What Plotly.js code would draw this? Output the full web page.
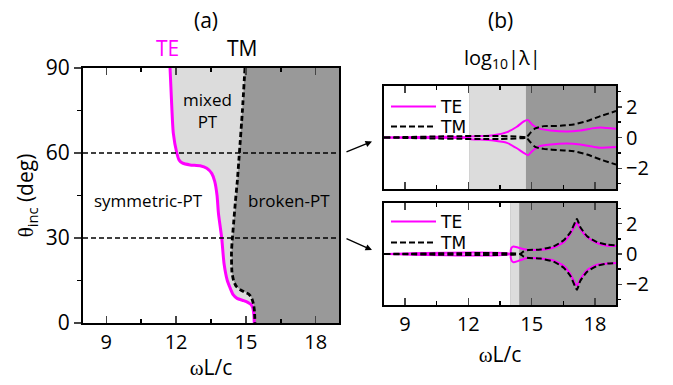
<!DOCTYPE html>
<html><head><meta charset="utf-8">
<script src="https://cdn.plot.ly/plotly-3.0.1.min.js"></script>
<style>html,body{margin:0;padding:0;background:#fff}#chart{width:673px;height:385px}</style>
</head><body><div id="chart"></div>
<script>
// ---------- Panel (a): phase boundaries (theta_inc in deg vs omega L/c) ----------
const teTheta = [90, 79, 67, 60, 57.5, 56.4, 55.8, 55.5, 54.6, 52.8, 50, 45, 38.7, 30, 21, 15, 12.8, 10, 8.7, 7.9, 7.3, 6.5, 5.2, 3, 0];
const teOmega = [11.74, 11.8, 11.88, 12.03, 12.13, 12.28, 12.6, 13.03, 13.32, 13.53, 13.66, 13.76, 13.82, 13.96, 14.06, 14.2, 14.3, 14.45, 14.62, 14.9, 15.08, 15.22, 15.3, 15.34, 15.36];
const tmTheta = [90, 75, 60, 50, 43, 35, 30, 25, 18, 15, 13, 11.8, 11, 10.2, 9.3, 8, 6.5, 4, 0];
const tmOmega = [14.96, 14.85, 14.72, 14.63, 14.55, 14.47, 14.42, 14.38, 14.4, 14.47, 14.58, 14.75, 14.92, 15.12, 15.22, 15.28, 15.33, 15.37, 15.39];
const cutAngles = [60, 30];
const omegaRange = [8, 19];
const thetaRange = [0, 90];
const logRange = [-3.35, 3.35];

// ---------- Panel (b): thresholds at the two cuts ----------
const cutTE = [12.04, 13.99];
const cutTM = [14.73, 14.41];

// cut at 60 deg
const b1TeOmega = [8, 12.04, 12.1, 12.56, 13.19, 13.83, 14.3, 14.62, 14.83, 15.02, 15.33, 15.89, 16.68, 17.31, 17.94, 18.26, 18.58, 19];
const b1TeUp    = [0, 0, 0.07, 0.09, 0.15, 0.35, 0.7, 1.04, 1.13, 0.85, 0.59, 0.46, 0.39, 0.46, 0.61, 0.65, 0.62, 0.57];
const b1TeLo    = [0, 0, -0.1, -0.13, -0.2, -0.35, -0.7, -1.0, -1.15, -0.89, -0.59, -0.46, -0.39, -0.46, -0.61, -0.67, -0.65, -0.61];
const b1TmOmega = [8, 14.73, 14.94, 15.17, 15.57, 16.36, 16.99, 17.63, 18.26, 19];
const b1TmUp    = [0, 0, 0.3, 0.59, 0.74, 0.76, 0.85, 1.07, 1.39, 1.72];
const b1TmLo    = [0, 0, -0.3, -0.61, -0.74, -0.83, -0.89, -1.11, -1.43, -1.76];

// cut at 30 deg
const b2TeOmega = [8, 13.99, 14.01, 14.05, 14.14, 14.38, 14.78, 15.41, 16.04, 16.52, 16.84, 17.03, 17.15, 17.31, 17.63, 18.1, 18.58, 19];
const b2TeUp    = [0, 0, 0.25, 0.42, 0.5, 0.41, 0.28, 0.28, 0.43, 0.78, 1.33, 1.8, 2.06, 1.65, 1.11, 0.72, 0.54, 0.52];
const b2TeLo    = [0, 0, -0.25, -0.44, -0.54, -0.45, -0.26, -0.3, -0.43, -0.78, -1.33, -1.85, -2.07, -1.65, -1.06, -0.7, -0.63, -0.59];
const b2TmOmega = [8, 14.44, 14.6, 14.78, 15.41, 16.04, 16.52, 16.84, 17.08, 17.15, 17.31, 17.63, 18.1, 18.58, 19];
const b2TmUp    = [0, 0, 0.15, 0.25, 0.3, 0.5, 0.9, 1.43, 2.15, 2.3, 1.76, 1.17, 0.78, 0.61, 0.57];
const b2TmLo    = [0, 0, -0.15, -0.25, -0.3, -0.5, -0.9, -1.45, -2.2, -2.35, -1.76, -1.17, -0.78, -0.63, -0.6];

const xTickVals = [9, 12, 15, 18];
const thetaTickVals = [0, 30, 60, 90];
const logTickVals = [-2, 0, 2];

// ---------- styles ----------
const MAG = '#ff00ff';
const LIGHT = '#dcdcdc';
const DARK = '#999999';
const FONT = 'Open Sans, DejaVu Sans, sans-serif';

const teLine = {color: MAG, width: 2, shape: 'spline', smoothing: 0.5};
const tmLine = {color: '#000', width: 2, dash: '6px,3px', shape: 'spline', smoothing: 0.5};

const traces = [
  // panel (a) fills
  {x: tmOmega, y: tmTheta, xaxis: 'x', yaxis: 'y', mode: 'lines', line: {width: 0}, fill: 'tozerox', fillcolor: LIGHT, showlegend: false, hoverinfo: 'skip'},
  {x: teOmega, y: teTheta, xaxis: 'x', yaxis: 'y', mode: 'lines', line: {width: 0}, fill: 'tozerox', fillcolor: '#ffffff', showlegend: false, hoverinfo: 'skip'},
  // panel (a) curves
  {x: teOmega, y: teTheta, xaxis: 'x', yaxis: 'y', mode: 'lines', line: {color: MAG, width: 3, shape: 'spline', smoothing: 0.6}, showlegend: false},
  {x: tmOmega, y: tmTheta, xaxis: 'x', yaxis: 'y', mode: 'lines', line: {color: '#000', width: 2.8, dash: '5px,3px', shape: 'spline', smoothing: 0.6}, showlegend: false},

  // panel (b) top
  {x: b1TeOmega, y: b1TeUp, xaxis: 'x2', yaxis: 'y2', mode: 'lines', name: 'TE', legend: 'legend', line: teLine},
  {x: b1TeOmega, y: b1TeLo, xaxis: 'x2', yaxis: 'y2', mode: 'lines', showlegend: false, line: teLine},
  {x: b1TmOmega, y: b1TmUp, xaxis: 'x2', yaxis: 'y2', mode: 'lines', name: 'TM', legend: 'legend2', line: tmLine},
  {x: b1TmOmega, y: b1TmLo, xaxis: 'x2', yaxis: 'y2', mode: 'lines', showlegend: false, line: tmLine},

  // panel (b) bottom
  {x: b2TeOmega, y: b2TeUp, xaxis: 'x3', yaxis: 'y3', mode: 'lines', name: 'TE', legend: 'legend3', line: teLine},
  {x: b2TeOmega, y: b2TeLo, xaxis: 'x3', yaxis: 'y3', mode: 'lines', showlegend: false, line: teLine},
  {x: b2TmOmega, y: b2TmUp, xaxis: 'x3', yaxis: 'y3', mode: 'lines', name: 'TM', legend: 'legend4', line: tmLine},
  {x: b2TmOmega, y: b2TmLo, xaxis: 'x3', yaxis: 'y3', mode: 'lines', showlegend: false, line: tmLine}
];

const W = 673, H = 385;
const px = (a, b) => [a / W, b / W];
const py = (top, bot) => [1 - bot / H, 1 - top / H];

const tickFont = {family: FONT, size: 20, color: '#000'};
const baseX = {
  range: omegaRange, tickmode: 'array', tickvals: xTickVals, ticks: 'inside', ticklen: 7, tickwidth: 1.5,
  minor: {dtick: 1.5, tick0: 9, ticks: 'inside', ticklen: 4, tickwidth: 1.5, tickcolor: '#000'},
  showline: true, linewidth: 2, linecolor: '#000', mirror: 'ticks', showgrid: false, zeroline: false,
  tickfont: tickFont, automargin: false, fixedrange: true
};
const omegaTitle = '<span style="font-family:Liberation Serif">ω</span>L/c';

const legendBase = (top) => ({x: 386 / W, y: 1 - top / H, xanchor: 'left', yanchor: 'top', bgcolor: 'rgba(0,0,0,0)',
  font: {family: 'DejaVu Sans, sans-serif', size: 17, color: '#000'}, itemwidth: 45});

const layout = {
  width: W, height: H,
  margin: {l: 0, r: 0, t: 0, b: 0},
  paper_bgcolor: '#ffffff',
  plot_bgcolor: DARK,
  font: {family: FONT, color: '#000'},
  xaxis: Object.assign({}, baseX, {domain: px(83, 339), anchor: 'y',
    title: {text: omegaTitle, font: {family: FONT, size: 21}, standoff: 6}}),
  yaxis: {domain: py(68, 323), anchor: 'x', range: thetaRange, tickmode: 'array', tickvals: thetaTickVals,
    ticks: 'outside', ticklen: 7, tickwidth: 1.5,
    minor: {dtick: 15, ticks: 'outside', ticklen: 4, tickwidth: 1.5, tickcolor: '#000'},
    showline: true, linewidth: 2, linecolor: '#000', mirror: true, showgrid: false, zeroline: false,
    tickfont: {family: FONT, size: 21, color: '#000'}, automargin: false, fixedrange: true,
    title: {text: '<span style="font-family:Liberation Serif">θ</span><sub>inc</sub> (deg)', font: {family: FONT, size: 21}, standoff: 6}},
  xaxis2: Object.assign({}, baseX, {domain: px(384, 616), anchor: 'y2', showticklabels: false}),
  yaxis2: {domain: py(86, 189), anchor: 'x2', side: 'right', range: logRange, tickmode: 'array', tickvals: logTickVals,
    ticks: 'outside', ticklen: 4, tickwidth: 1.5,
    minor: {dtick: 1, tick0: 1, ticks: 'outside', ticklen: 3, tickwidth: 1.5, tickcolor: '#000'},
    showline: true, linewidth: 2, linecolor: '#000', mirror: true, showgrid: false, zeroline: false,
    tickfont: tickFont, automargin: false, fixedrange: true},
  xaxis3: Object.assign({}, baseX, {domain: px(384, 616), anchor: 'y3',
    title: {text: omegaTitle, font: {family: FONT, size: 21}, standoff: 11}}),
  yaxis3: {domain: py(203, 305), anchor: 'x3', side: 'right', range: logRange, tickmode: 'array', tickvals: logTickVals,
    ticks: 'outside', ticklen: 4, tickwidth: 1.5,
    minor: {dtick: 1, tick0: 1, ticks: 'outside', ticklen: 3, tickwidth: 1.5, tickcolor: '#000'},
    showline: true, linewidth: 2, linecolor: '#000', mirror: true, showgrid: false, zeroline: false,
    tickfont: tickFont, automargin: false, fixedrange: true},
  legend: legendBase(89),
  legend2: legendBase(109),
  legend3: legendBase(204),
  legend4: legendBase(225),
  shapes: [],
  annotations: []
};

// panel (b) background regions from thresholds
const bAxes = [['x2', 'y2'], ['x3', 'y3']];
bAxes.forEach(([xa, ya], i) => {
  layout.shapes.push({type: 'rect', xref: xa, yref: ya + ' domain', x0: omegaRange[0], x1: cutTE[i], y0: 0, y1: 1, fillcolor: '#ffffff', line: {width: 0}, layer: 'below'});
  layout.shapes.push({type: 'rect', xref: xa, yref: ya + ' domain', x0: cutTE[i], x1: cutTM[i], y0: 0, y1: 1, fillcolor: LIGHT, line: {width: 0}, layer: 'below'});
});
// panel (a) cut lines
cutAngles.forEach(a => {
  layout.shapes.push({type: 'line', xref: 'x domain', yref: 'y', x0: 0, x1: 1, y0: a, y1: a, line: {color: '#000', width: 1.5, dash: '5px,3px'}, layer: 'above'});
});

const ann = (o) => Object.assign({showarrow: false, xanchor: 'center', yanchor: 'middle', font: {family: FONT, size: 17, color: '#000'}}, o);
layout.annotations.push(
  ann({text: '(a)', xref: 'paper', yref: 'paper', x: 206 / W, y: 1 - 20 / H, font: {family: FONT, size: 21, color: '#000'}}),
  ann({text: '(b)', xref: 'paper', yref: 'paper', x: 500 / W, y: 1 - 20 / H, font: {family: FONT, size: 21, color: '#000'}}),
  ann({text: 'log<sub>10</sub>|λ|', xref: 'paper', yref: 'paper', x: 502 / W, y: 1 - 59 / H, font: {family: FONT, size: 20, color: '#000'}}),
  ann({text: 'TE', xref: 'x', yref: 'paper', x: 11.65, y: 1 - 48.5 / H, font: {family: FONT, size: 21, color: MAG}}),
  ann({text: 'TM', xref: 'x', yref: 'paper', x: 14.83, y: 1 - 48.5 / H, font: {family: FONT, size: 21, color: '#000'}}),
  ann({text: 'mixed<br>PT', xref: 'x', yref: 'y', x: 13.33, y: 75}),
  ann({text: 'symmetric-PT', xref: 'x', yref: 'y', x: 10.81, y: 43.4}),
  ann({text: 'broken-PT', xref: 'x', yref: 'y', x: 16.87, y: 43.4}),
  {xref: 'paper', yref: 'paper', x: 372 / W, y: 1 - 141.5 / H, ax: -27, ay: 11, showarrow: true, arrowhead: 2, arrowsize: 1, arrowwidth: 1.3, arrowcolor: '#000', text: ''},
  {xref: 'paper', yref: 'paper', x: 372 / W, y: 1 - 250 / H, ax: -27, ay: -12, showarrow: true, arrowhead: 2, arrowsize: 1, arrowwidth: 1.3, arrowcolor: '#000', text: ''}
);

Plotly.newPlot('chart', traces, layout, {staticPlot: true, displayModeBar: false});
</script>
</body></html>
